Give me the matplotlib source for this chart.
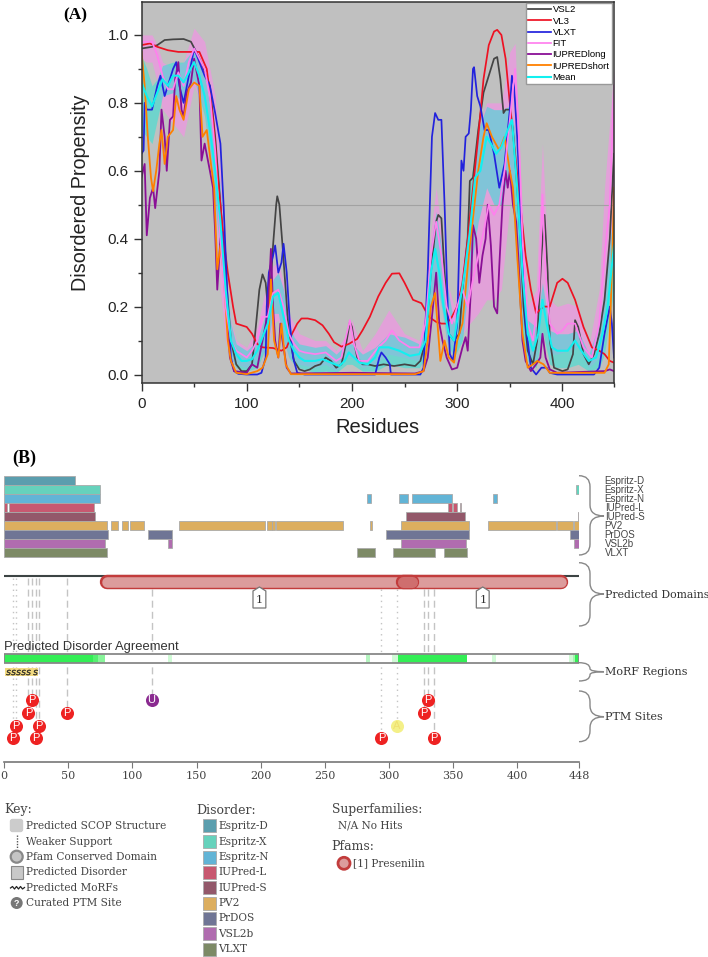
import matplotlib
matplotlib.use("Agg")
import matplotlib.pyplot as plt
from matplotlib.patches import PathPatch, Polygon, Rectangle, Circle, FancyBboxPatch
from matplotlib.path import Path

W, H = 708, 957
SANS = "Liberation Sans"
SERIF = "DejaVu Serif"

# ---- panel A ----
vsl2_x = [0, 10, 15, 22, 30, 40, 47, 52, 58, 65, 70, 75, 80, 85, 90, 95, 100, 105, 108, 112,
          115, 118, 120, 122, 125, 128, 129, 131, 134, 137, 140, 145, 150, 155, 160, 165, 170, 175, 180, 185,
          190, 195, 198, 200, 203, 205, 210, 215, 222, 230, 240, 250, 260, 265, 270, 275, 280, 282, 285, 288,
          292, 297, 302, 305, 310, 312, 315, 320, 325, 330, 335, 338, 341, 344, 346, 350, 353, 357, 360, 363,
          367, 372, 376, 380, 383, 386, 388, 392, 400, 405, 410, 412, 415, 420, 425, 430, 435, 440, 445, 449]
vsl2_y = [.96, .965, .97, .985, .987, .988, .98, .95, .91, .85, .7, .5, .3, .1, .03, .01, .01, .03, .12, .25,
          .295, .27, .2, .23, .38, .5, .525, .5, .38, .25, .12, .04, .015, .01, .015, .025, .03, .05, .04, .02,
          .03, .1, .155, .14, .08, .05, .03, .03, .025, .03, .025, .03, .025, .04, .1, .3, .45, .47, .46, .3,
          .12, .1, .12, .25, .4, .57, .58, .72, .83, .88, .93, .935, .87, .77, .78, .78, .72, .55, .4, .2,
          .07, .03, .1, .35, .47, .3, .1, .02, .01, .015, .06, .16, .14, .06, .03, .06, .12, .22, .4, .65]

vl3_x = [0, 8, 15, 25, 35, 45, 55, 62, 68, 72, 75, 78, 82, 87, 90, 95, 100, 105, 110, 115,
         125, 133, 138, 143, 148, 152, 158, 165, 172, 178, 183, 190, 197, 205, 210, 217, 225, 232, 238, 245,
         250, 258, 266, 273, 280, 285, 290, 295, 300, 305, 310, 315, 320, 325, 330, 335, 338, 342, 346, 350,
         355, 360, 365, 370, 375, 382, 388, 395, 400, 405, 412, 420, 428, 435, 440, 445, 449]
vl3_y = [.97, .975, .965, .955, .95, .95, .95, .9, .75, .6, .5, .4, .3, .2, .15, .145, .14, .12, .09, .08,
         .078, .07, .08, .12, .15, .165, .165, .16, .145, .12, .095, .082, .09, .105, .13, .17, .23, .27, .297, .298,
         .27, .22, .21, .17, .155, .15, .15, .17, .2, .27, .4, .55, .7, .87, .97, 1.01, 1.015, 1.0, .93, .8,
         .65, .5, .35, .25, .18, .2, .2, .27, .282, .27, .22, .14, .08, .07, .06, .04, .035]

vlxt_x = [0, 2, 3, 5, 10, 15, 18, 22, 26, 30, 33, 36, 40, 45, 50, 55, 60, 65, 70, 75,
          78, 82, 85, 88, 92, 100, 110, 114, 118, 119, 121, 125, 127, 130, 133, 135, 138, 141, 144, 148,
          155, 222, 226, 228, 232, 236, 237, 265, 268, 272, 276, 279, 282, 285, 288, 291, 293, 296, 300, 303,
          304, 306, 308, 311, 313, 315, 316, 319, 322, 326, 330, 335, 340, 345, 350, 352, 354, 357, 360, 365,
          370, 375, 380, 385, 388, 395, 430, 435, 440, 445, 447, 449]
vlxt_y = [.65, .66, .8, .78, .78, .85, .88, .82, .86, .9, .92, .85, .8, .88, .96, .92, .88, .85, .77, .68,
          .5, .2, .05, .01, .002, 0, 0, .005, .05, .2, .3, .35, .38, .3, .33, .385, .3, .15, .05, .005,
          0, 0, .05, .065, .05, .03, 0, 0, .02, .3, .7, .77, .75, .75, .5, .2, .06, .04, .15, .5,
          .63, .6, .7, .71, .78, .9, .905, .82, .79, .72, .72, .65, .55, .62, .78, .88, .85, .7, .5, .15,
          .02, 0, .02, .02, .005, 0, 0, .02, .12, .2, .15, .05]

fit_x = [0, 5, 10, 15, 20, 25, 30, 35, 40, 45, 50, 55, 60, 65, 70, 75, 80, 85, 90, 95,
         100, 105, 110, 115, 120, 125, 130, 135, 140, 145, 150, 155, 165, 175, 185, 190, 195, 198, 202, 207,
         215, 225, 232, 238, 245, 255, 264, 270, 275, 280, 285, 290, 295, 300, 305, 310, 315, 320, 325, 330,
         335, 340, 345, 350, 355, 358, 362, 367, 372, 378, 381, 384, 388, 395, 400, 405, 412, 420, 428, 435,
         440, 445, 449]
fit_y = [.98, .98, .98, .94, .88, .84, .84, .89, .85, .92, .96, .93, .9, .82, .66, .4, .2, .1, .07, .06,
         .05, .07, .1, .17, .17, .24, .25, .2, .12, .09, .07, .065, .06, .065, .04, .05, .12, .16, .09, .04,
         .04, .08, .1, .13, .1, .08, .08, .15, .35, .45, .35, .2, .15, .2, .25, .2, .28, .35, .42, .5,
         .47, .5, .6, .75, .9, .75, .4, .15, .1, .25, .53, .3, .15, .12, .13, .15, .15, .08, .05, .15,
         .35, .5, .85]

iul_x = [0, 3, 5, 8, 11, 13, 17, 19, 22, 24, 27, 30, 32, 35, 38, 40, 43, 47, 50, 55,
         57, 60, 65, 68, 70, 72, 75, 77, 80, 84, 88, 100, 105, 110, 115, 120, 123, 125, 127, 130,
         132, 134, 138, 142, 200, 260, 268, 272, 277, 280, 283, 286, 290, 295, 300, 305, 308, 310, 313, 315,
         318, 321, 324, 327, 329, 332, 335, 338, 340, 343, 346, 348, 350, 353, 356, 358, 362, 365, 370, 375,
         379, 381, 384, 388, 395, 440, 445, 449]
iul_y = [.58, .62, .41, .52, .55, .49, .6, .78, .7, .6, .75, .76, .87, .92, .78, .76, .83, .86, .93, .85,
         .63, .68, .6, .55, .42, .25, .4, .42, .25, .05, .01, .005, .03, .02, .1, .18, .37, .2, .1, .05,
         .15, .1, .02, .003, .005, .003, .01, .05, .2, .3, .15, .1, .05, .015, .02, .08, .11, .07, .25, .44,
         .4, .27, .35, .4, .5, .38, .2, .18, .32, .5, .6, .55, .6, .5, .45, .35, .1, .04, .01, .03,
         .05, .12, .05, .015, .005, .01, .015, .01]

ius_x = [0, 3, 6, 9, 11, 14, 17, 19, 22, 25, 30, 33, 36, 40, 45, 50, 55, 58, 62, 66,
         69, 72, 75, 78, 82, 85, 90, 100, 110, 115, 120, 123, 126, 130, 133, 137, 142, 260, 268, 272,
         275, 279, 284, 288, 292, 297, 300, 305, 308, 311, 320, 325, 328, 333, 340, 345, 350, 353, 357, 362,
         367, 372, 376, 382, 388, 440, 444, 447, 449]
ius_y = [.95, .85, .7, .58, .54, .6, .68, .72, .62, .7, .72, .82, .78, .75, .84, .86, .85, .7, .72, .62,
         .55, .31, .38, .3, .1, .04, .005, .001, .01, .02, .06, .28, .1, .05, .15, .03, .001, .001, .01, .1,
         .2, .24, .04, .1, .05, .035, .1, .15, .25, .35, .6, .7, .74, .7, .66, .7, .6, .55, .35, .12,
         .02, .03, .04, .03, .005, .005, .03, .3, .55]

mean_x = [0, 5, 10, 15, 20, 25, 30, 35, 40, 45, 50, 55, 60, 65, 70, 75, 80, 85, 90, 95,
          100, 105, 110, 115, 120, 125, 130, 135, 140, 145, 150, 155, 165, 172, 180, 188, 193, 197, 202, 207,
          215, 222, 226, 235, 245, 255, 264, 270, 275, 279, 283, 287, 292, 297, 302, 307, 312, 317, 322, 328,
          332, 337, 342, 348, 352, 357, 362, 367, 372, 377, 381, 385, 390, 395, 405, 412, 418, 425, 432, 438,
          443, 449]
mean_y = [.86, .82, .79, .83, .87, .85, .88, .88, .86, .89, .92, .88, .82, .72, .6, .45, .25, .1, .06, .04,
          .04, .045, .07, .11, .15, .23, .24, .17, .1, .07, .05, .04, .04, .045, .035, .025, .04, .065, .05, .035,
          .03, .05, .08, .08, .07, .055, .06, .1, .3, .37, .3, .2, .12, .1, .2, .3, .42, .58, .6, .7,
          .68, .65, .67, .72, .75, .55, .3, .12, .07, .12, .22, .15, .08, .07, .07, .1, .07, .04, .05, .12,
          .2, .38]

# shaded bands
band_x = [0, 5, 10, 15, 20, 30, 40, 50, 60, 70,
          75, 80, 85, 90, 100, 110, 120, 125, 130, 135,
          140, 145, 150, 165, 175, 185, 195, 200, 210, 222,
          235, 250, 264, 270, 275, 280, 285, 290, 297, 305,
          312, 320, 328, 335, 342, 350, 355, 360, 367, 375,
          381, 388, 395, 405, 415, 425, 435, 440, 449]
teal_hi = [.94, .9, .85, .87, .91, .92, .92, .96, .88, .7,
           .55, .3, .15, .09, .07, .1, .2, .28, .3, .25,
           .15, .11, .09, .08, .085, .06, .09, .09, .06, .08,
           .12, .11, .09, .15, .38, .48, .38, .27, .15, .3,
           .55, .72, .79, .78, .78, .79, .72, .45, .16, .14,
           .27, .13, .12, .12, .13, .06, .15, .25, .5]
teal_lo = [.72, .7, .68, .75, .82, .83, .8, .87, .76, .5,
           .35, .18, .05, .02, .01, .02, .09, .18, .18, .1,
           .05, .03, .02, .005, .01, .005, .03, .03, .01, .01,
           .03, .02, .02, .05, .2, .28, .2, .1, .05, .1,
           .3, .45, .55, .5, .5, .62, .4, .15, .04, .02,
           .13, .03, .02, .02, .03, .01, .02, .06, .25]
pink_hi = [1.0, 1.0, 1.0, .97, .92, .9, .92, 1.02, .98, .82,
           .6, .3, .16, .1, .08, .14, .28, .32, .33, .27,
           .18, .15, .12, .1, .1, .07, .12, .16, .07, .12,
           .19, .12, .1, .2, .42, .55, .42, .28, .2, .33,
           .5, .72, .8, .8, .8, .95, .975, .6, .2, .25,
           .68, .22, .2, .21, .2, .08, .25, .55, .9]
pink_lo = [.93, .92, .92, .86, .78, .74, .7, .85, .78, .5,
           .25, .1, .04, .03, .02, .04, .09, .15, .16, .1,
           .05, .04, .03, .02, .03, .01, .05, .05, .02, .03,
           .06, .05, .04, .08, .22, .3, .2, .1, .08, .12,
           .15, .18, .22, .22, .25, .5, .6, .2, .06, .04,
           .2, .06, .06, .07, .08, .02, .05, .18, .45]

# ---- panel B ----
row_names = ["Espritz-D", "Espritz-X", "Espritz-N", "IUPred-L", "IUPred-S", "PV2", "PrDOS", "VSL2b", "VLXT"]
row_colors = ["#5b9eae", "#66d2bc", "#62b4d6", "#c85870", "#93586a", "#dcae5f", "#6f7595", "#b06caf", "#7d8a66"]
esp_d = [(0, 55)]
esp_x = [(0, 75), (446, 448)]
esp_n = [(0, 75), (283, 286), (308, 315), (318, 349), (381, 384)]
iu_l = [(0, 2), (4, 70), (346, 349), (350, 353), (355, 356)]
iu_s = [(0, 71), (313, 359), (447, 448)]
pv2 = [(0, 80), (83, 89), (92, 97), (98, 109), (136, 203), (205, 209), (209, 211), (212, 264),
       (285, 287), (309, 362), (377, 430), (431, 443), (444, 448)]
prdos = [(0, 81), (112, 131), (298, 362), (441, 448)]
vsl2b = [(0, 79), (128, 131), (309, 360), (444, 448)]
vlxt = [(0, 80), (275, 289), (303, 336), (343, 361)]
row_segments = [esp_d, esp_x, esp_n, iu_l, iu_s, pv2, prdos, vsl2b, vlxt]

green_start = [0, 69, 73, 128, 282, 302, 307, 380, 440, 443, 445]
green_end = [69, 73, 79, 131, 285, 307, 361, 383, 443, 445, 448]
green_cols = ["#33ee55", "#55f070", "#88f59a", "#d0fad6", "#b5f5c0", "#d0fad6", "#33ee55", "#d0fad6", "#d0fad6", "#a5f5b0", "#33ee55"]

morf_x = [3, 7, 11, 15, 19, 24]

ptm_res = [22, 19, 49, 9, 27, 7, 25, 115, 330, 327, 306, 294, 335]
ptm_row = [0, 1, 1, 2, 2, 3, 3, 0, 0, 1, 2, 3, 3]
ptm_kind = ["P", "P", "P", "P", "P", "P", "P", "U", "P", "P", "A", "P", "P"]
ptm_dotted = [9, 7, 294, 306]
ptm_colors = {"P": "#ee2222", "U": "#8a2a90", "A": "#f4f088"}

key_items = ["Predicted SCOP Structure", "Weaker Support", "Pfam Conserved Domain",
             "Predicted Disorder", "Predicted MoRFs", "Curated PTM Site"]

fig = plt.figure(figsize=(W / 100, H / 100), dpi=100)


def axes_px(left, top, right, bottom):
    return fig.add_axes([left / W, 1 - bottom / H, (right - left) / W, (bottom - top) / H])


# panel A
ax = axes_px(141.5, 2, 614, 383)
ax.set_facecolor("#c0c0c0")
ax.set_xlim(0, 449)
ax.set_ylim(-0.025, 1.097)
ax.axhline(0.5, color="#a2a2a2", lw=0.8)
ln_vsl2, = ax.plot(vsl2_x, vsl2_y, color="#444444", lw=1.25, label="VSL2")
ln_vl3, = ax.plot(vl3_x, vl3_y, color="#ee1122", lw=1.25, label="VL3")
ln_vlxt, = ax.plot(vlxt_x, vlxt_y, color="#2222dd", lw=1.25, label="VLXT")
ln_iul, = ax.plot(iul_x, iul_y, color="#8a0f96", lw=1.3, label="IUPREDlong")
ln_ius, = ax.plot(ius_x, ius_y, color="#ff8000", lw=1.3, label="IUPREDshort")
ax.fill_between(band_x, pink_lo, pink_hi, color="#ff88ee", alpha=0.55, lw=0)
ln_fit, = ax.plot(fit_x, fit_y, color="#ff80ee", lw=1.25, label="FIT")
ax.fill_between(band_x, teal_lo, teal_hi, color="#20e8d8", alpha=0.5, lw=0)
ln_mean, = ax.plot(mean_x, mean_y, color="#11f0f0", lw=1.5, label="Mean")
ax.set_xticks([0, 100, 200, 300, 400])
ax.set_xticks([50, 150, 250, 350, 449], minor=True)
ax.set_yticks([0, .2, .4, .6, .8, 1.0])
ax.set_yticks([.1, .3, .5, .7, .9], minor=True)
ax.tick_params(which="major", length=6, width=1, labelsize=11, color="#333333", labelcolor="#222222")
ax.tick_params(axis="y", which="major", pad=3)
ax.tick_params(axis="x", which="major", pad=4)
ax.tick_params(which="minor", length=3, width=1, color="#333333")
for lab in ax.get_xticklabels() + ax.get_yticklabels():
    lab.set_fontfamily(SANS)
ax.set_xlabel("Residues", fontsize=14.5, family=SANS, labelpad=5, color="#222222")
ax.set_ylabel("Disordered Propensity", fontsize=14.2, family=SANS, labelpad=13, color="#222222")
for s in ax.spines.values():
    s.set_color("#333333")
    s.set_linewidth(1.1)
leg = ax.legend(handles=[ln_vsl2, ln_vl3, ln_vlxt, ln_fit, ln_iul, ln_ius, ln_mean],
                loc="upper left", bbox_to_anchor=((525.7 - 141.5) / 472.5, 1 - 1 / 381),
                prop={"family": SANS, "size": 6.8}, labelspacing=0.24, handlelength=2.4,
                handletextpad=0.2, borderpad=0.25, borderaxespad=0, fancybox=False,
                facecolor="white", framealpha=1, edgecolor="#999999")
leg.get_frame().set_linewidth(1)

# panel B
axb = axes_px(4, 470, 579, 761.7)
axb.set_xlim(0, 448)
axb.set_ylim(761.7, 470)
axb.patch.set_alpha(0)
for name in ["top", "left", "right"]:
    axb.spines[name].set_visible(False)
axb.spines["bottom"].set_color("#777777")
axb.spines["bottom"].set_linewidth(1.2)
axb.set_yticks([])
axb.set_xticks([0, 50, 100, 150, 200, 250, 300, 350, 400, 448])
axb.tick_params(axis="x", length=4, color="#777777", labelsize=8, labelcolor="#444444", pad=3)
for lab in axb.get_xticklabels():
    lab.set_fontfamily(SERIF)

for i, segs in enumerate(row_segments):
    yc = 480 + 9 * i
    for a, b in segs:
        axb.add_patch(Rectangle((a, yc - 4.5), b - a, 9, facecolor=row_colors[i], edgecolor="#aaaaaa", lw=0.6))

# PTM guide lines
for r, row, kind in zip(ptm_res, ptm_row, ptm_kind):
    yc = 699.7 + 12.9 * row
    style = (0, (1, 3)) if r in ptm_dotted else (0, (5, 3))
    axb.plot([r, r], [578, yc], color="#c4c4c4", lw=1, ls=style, zorder=1)

axb.plot([0, 448], [575.7, 575.7], color="#3c4444", lw=1.5, zorder=2, solid_capstyle="butt")
axb.plot([80, 434], [582, 582], color="#c23c3c", lw=10.4, solid_capstyle="round", zorder=3)
axb.plot([80, 434], [582, 582], color="#dc9c9c", lw=7.6, solid_capstyle="round", zorder=3)
axb.plot([311, 318], [582, 582], color="#c23c3c", lw=10.4, solid_capstyle="round", zorder=3)
axb.plot([311, 318], [582, 582], color="#cf6e6e", lw=8, solid_capstyle="round", zorder=3)
for r in [199, 373]:
    axb.add_patch(Polygon([(r - 5, 608), (r + 5, 608), (r + 5, 591), (r, 587), (r - 5, 591)], closed=True,
                          facecolor="white", edgecolor="#777777", lw=0.9, zorder=4))
    axb.text(r, 600, "1", ha="center", va="center", fontsize=8, family=SERIF, color="#333333", zorder=5)

axb.text(0, 647, "Predicted Disorder Agreement", ha="left", va="center", fontsize=9.4, family=SANS, color="#333333")
axb.add_patch(Rectangle((0, 654), 448, 9.3, facecolor="white", edgecolor="none", zorder=2))
for a, b, c in zip(green_start, green_end, green_cols):
    axb.add_patch(Rectangle((a, 654), b - a, 9.3, facecolor=c, edgecolor="none", zorder=2))
axb.add_patch(Rectangle((0, 654), 448, 9.3, facecolor="none", edgecolor="#888888", lw=1.3, zorder=3))

axb.add_patch(Rectangle((1, 668), 25.5, 7.5, facecolor="#f2da80", edgecolor="none", zorder=2))
axb.plot(morf_x, [671.7] * len(morf_x), ls="", marker="$s$", color="#222222", ms=3.8, mew=0.2, zorder=3)

for r, row, kind in zip(ptm_res, ptm_row, ptm_kind):
    yc = 699.7 + 12.9 * row
    axb.plot([r], [yc], marker="o", ms=9.4, mec="none", color=ptm_colors[kind], zorder=4)
    axb.text(r, yc, kind, ha="center", va="center", fontsize=8, family=SANS,
             color="#f0e070" if kind == "A" else "white", zorder=5)

# labels and legend section, in picture pixels
over = fig.add_axes([0, 0, 1, 1])
over.set_xlim(0, W)
over.set_ylim(H, 0)
over.axis("off")
over.patch.set_alpha(0)


def brace(y0, ytip, y1):
    r = 11
    verts = [(579, y0), (590, y0), (590, y0 + r), (590, ytip - r), (590, ytip), (604, ytip),
             (590, ytip), (590, ytip + r), (590, y1 - r), (590, y1), (579, y1)]
    codes = [Path.MOVETO, Path.CURVE3, Path.CURVE3, Path.LINETO, Path.CURVE3, Path.CURVE3,
             Path.CURVE3, Path.CURVE3, Path.LINETO, Path.CURVE3, Path.CURVE3]
    over.add_patch(PathPatch(Path(verts, codes), facecolor="none", edgecolor="#888888", lw=1))


def small_brace(y0, ytip, y1):
    verts = [(579, y0), (590, y0), (590, ytip - 3), (590, ytip), (604, ytip),
             (590, ytip), (590, ytip + 3), (590, y1), (579, y1)]
    codes = [Path.MOVETO, Path.CURVE3, Path.CURVE3, Path.CURVE3, Path.CURVE3,
             Path.CURVE3, Path.CURVE3, Path.CURVE3, Path.CURVE3]
    over.add_patch(PathPatch(Path(verts, codes), facecolor="none", edgecolor="#888888", lw=1))


brace(475.7, 516, 555)
brace(562.7, 594, 626)
small_brace(662.7, 671.7, 681)
brace(691, 716.7, 741.7)

for i, name in enumerate(row_names):
    over.text(604.7, 481 + 9 * i, name, fontsize=7, family=SANS, va="center", color="#444444")
over.text(604.7, 594.5, "Predicted Domains", fontsize=7.8, family=SERIF, va="center", color="#333333")
over.text(604.7, 671.7, "MoRF Regions", fontsize=8, family=SERIF, va="center", color="#333333")
over.text(604.7, 716.7, "PTM Sites", fontsize=8, family=SERIF, va="center", color="#333333")

over.text(63, 15, "(A)", fontsize=12.5, family="Liberation Serif", weight="bold", va="center")
over.text(12, 458, "(B)", fontsize=13, family="Liberation Serif", weight="bold", va="center")

# key
txt = dict(family=SERIF, va="center", color="#444444")
over.text(4.3, 810, "Key:", fontsize=9, **txt)
over.text(196.7, 810, "Disorder:", fontsize=9, **txt)
over.text(331.7, 810, "Superfamilies:", fontsize=8.8, **txt)
over.text(331.7, 846.7, "Pfams:", fontsize=9, **txt)
over.text(337.7, 826, "N/A No Hits", fontsize=7.6, **txt)
over.text(353.3, 863.3, "[1] Presenilin", fontsize=7.6, **txt)
over.add_patch(Circle((344, 863.3), 6, facecolor="#dc9c9c", edgecolor="#c23c3c", lw=2))

key_y = [825.7, 841.7, 856.7, 872, 887.7, 903]
for y, name in zip(key_y, key_items):
    over.text(26, y, name, fontsize=7.6, **txt)
over.add_patch(FancyBboxPatch((11.5, 820.5), 10, 10, boxstyle="round,pad=1,rounding_size=2", facecolor="#cccccc", edgecolor="#cccccc"))
over.plot([16.7, 16.7], [835, 848], color="#555555", lw=1, ls=(0, (1, 1)))
over.add_patch(Circle((16.7, 856.7), 6, facecolor="#c4c4c4", edgecolor="#888888", lw=1.6))
over.add_patch(Rectangle((10.5, 866), 12.5, 12.5, facecolor="#c8c8c8", edgecolor="#888888", lw=0.8))
over.plot([10.5, 12.5, 14.5, 16.5, 18.5, 20.5, 22.5, 24.5], [888, 886.5, 889, 886.5, 889, 886.5, 889, 887.5],
          color="#222222", lw=0.9)
over.add_patch(Circle((16.7, 903), 6, facecolor="#777777", edgecolor="none"))
over.text(16.7, 903, "?", fontsize=6.5, family=SANS, weight="bold", color="white", ha="center", va="center")

dis_y = [825.7, 841.7, 857, 872.3, 887.7, 903.3, 918.3, 933.7, 949.3]
for y, name, c in zip(dis_y, row_names, row_colors):
    over.add_patch(Rectangle((202.5, y - 6.5), 13, 13, facecolor=c, edgecolor="#aaaaaa", lw=0.6))
    over.text(218.3, y, name, fontsize=7.6, **txt)

fig.savefig("out.png", dpi=100)
